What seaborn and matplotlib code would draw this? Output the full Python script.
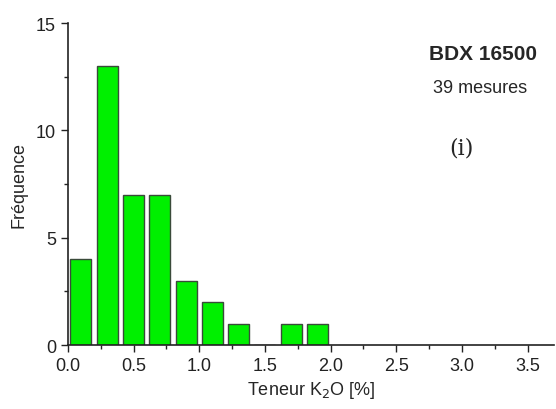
import pandas as pd
import matplotlib
matplotlib.use("Agg")
import matplotlib.pyplot as plt
import seaborn as sns
from matplotlib.ticker import MultipleLocator

# histogram bins (centres, width 0.2) and counts
bin_centres = [0.1, 0.3, 0.5, 0.7, 0.9, 1.1, 1.3, 1.5, 1.7, 1.9]
counts = [4, 13, 7, 7, 3, 2, 1, 0, 1, 1]

df = pd.DataFrame({"teneur": bin_centres, "freq": counts})

sns.set_style("ticks")
plt.rcParams["font.family"] = ["Liberation Sans", "DejaVu Sans"]

fig = plt.figure(figsize=(5.56, 4.10), dpi=100)
ax = fig.add_axes([0.122, 0.156, 0.874, 0.785])

sns.barplot(data=df, x="teneur", y="freq", native_scale=True, width=0.8,
            color="#00f000", edgecolor="#3a4a3a", linewidth=1.0,
            saturation=1, ax=ax)

ax.set_xlim(0, 3.7)
ax.set_ylim(0, 15)
ax.xaxis.set_major_locator(MultipleLocator(0.5))
ax.xaxis.set_minor_locator(MultipleLocator(0.25))
ax.yaxis.set_major_locator(MultipleLocator(5))
ax.yaxis.set_minor_locator(MultipleLocator(2.5))
ax.xaxis.set_major_formatter(matplotlib.ticker.FormatStrFormatter("%.1f"))
ax.tick_params(which="major", length=5, width=1, labelsize=13, colors="#222222")
ax.tick_params(which="minor", length=3, width=1, colors="#222222")
for s in ["left", "bottom"]:
    ax.spines[s].set_linewidth(1.2)
    ax.spines[s].set_color("#222222")
sns.despine(ax=ax)

ax.set_xlabel("Teneur K$_2$O [%]", fontsize=13, labelpad=4)
ax.set_ylabel("Fréquence", fontsize=13, labelpad=6)

ax.text(0.855, 0.905, "BDX 16500", transform=ax.transAxes, ha="center",
        va="center", fontsize=15, fontweight="bold")
ax.text(0.848, 0.80, "39 mesures", transform=ax.transAxes, ha="center",
        va="center", fontsize=13)
ax.text(0.81, 0.615, "(i)", transform=ax.transAxes, ha="center",
        va="center", fontsize=16, family=["DejaVu Serif"])

fig.savefig("out.png", dpi=100)
